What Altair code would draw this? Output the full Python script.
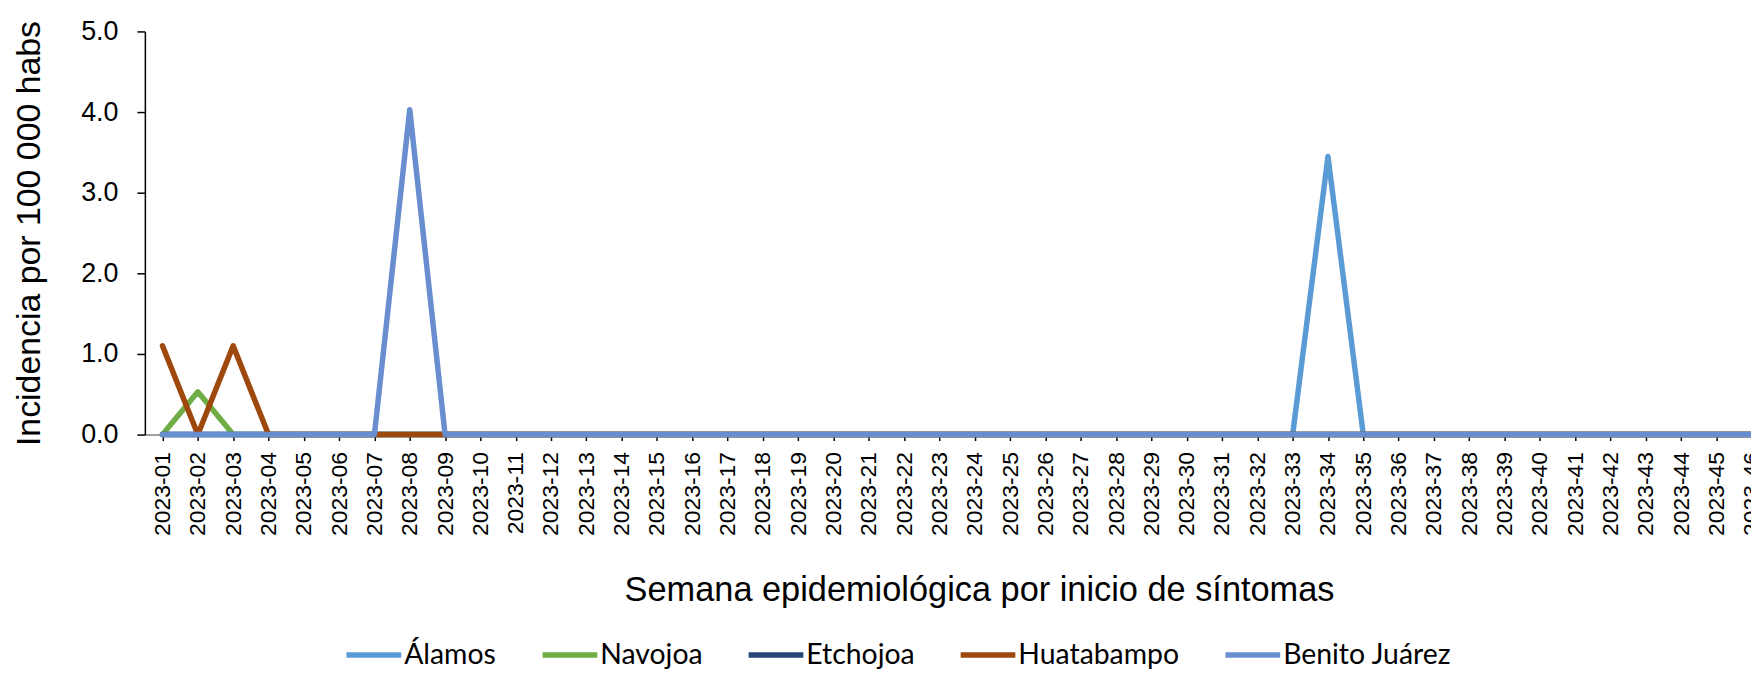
import altair as alt
import pandas as pd

weeks = [f"2023-{i:02d}" for i in range(1, 47)]
series = ["Álamos", "Navojoa", "Etchojoa", "Huatabampo", "Benito Juárez"]
colors = ["#5B9BD5", "#70AD47", "#264478", "#9E480E", "#698ED0"]

alamos = [0, 0, 0, 0, 0, 0, 0, 0, 0, 0, 0, 0, 0, 0, 0, 0, 0, 0, 0, 0, 0, 0, 0, 0, 0, 0, 0, 0, 0, 0, 0, 0, 0,
          3.45, 0, 0, 0, 0, 0, 0, 0, 0, 0, 0, 0, 0]
navojoa = [0, 0.53, 0, 0, 0, 0, 0, 0, 0, 0, 0, 0, 0, 0, 0, 0, 0, 0, 0, 0, 0, 0, 0, 0, 0, 0, 0, 0, 0, 0, 0, 0, 0,
           0, 0, 0, 0, 0, 0, 0, 0, 0, 0, 0, 0, 0]
etchojoa = [0, 0, 0, 0, 0, 0, 0, 0, 0, 0, 0, 0, 0, 0, 0, 0, 0, 0, 0, 0, 0, 0, 0, 0, 0, 0, 0, 0, 0, 0, 0, 0, 0,
            0, 0, 0, 0, 0, 0, 0, 0, 0, 0, 0, 0, 0]
huatabampo = [1.1, 0, 1.1, 0, 0, 0, 0, 0, 0, 0, 0, 0, 0, 0, 0, 0, 0, 0, 0, 0, 0, 0, 0, 0, 0, 0, 0, 0, 0, 0, 0, 0, 0,
              0, 0, 0, 0, 0, 0, 0, 0, 0, 0, 0, 0, 0]
benito_juarez = [0, 0, 0, 0, 0, 0, 0, 4.03, 0, 0, 0, 0, 0, 0, 0, 0, 0, 0, 0, 0, 0, 0, 0, 0, 0, 0, 0, 0, 0, 0, 0, 0, 0,
                 0, 0, 0, 0, 0, 0, 0, 0, 0, 0, 0, 0, 0]

values = [alamos, navojoa, etchojoa, huatabampo, benito_juarez]
rows = []
for name, vals in zip(series, values):
    for w, v in zip(weeks, vals):
        rows.append({"Semana": w, "Municipio": name, "Incidencia": v})
df = pd.DataFrame(rows)

x_enc = alt.X(
    "Semana:O",
    sort=weeks,
    scale=alt.Scale(domain=weeks),
    axis=alt.Axis(
        title="Semana epidemiológica por inicio de síntomas",
        titleFont="Liberation Sans", titleFontSize=34.5, titleFontWeight="normal",
        titleColor="#000000",
        titleX=838, titleY=157, titleAlign="center", titleBaseline="middle",
        labelFont="Liberation Sans", labelFontSize=23, labelColor="#000000",
        labelAngle=270, labelAlign="right", labelBaseline="middle",
        labelPadding=11, tickSize=6, tickColor="#000000", tickWidth=1.5,
        domainColor="#7f7f7f", domainWidth=1.5, grid=False, labelOverlap=False,
    ),
)
y_enc = alt.Y(
    "Incidencia:Q",
    scale=alt.Scale(domain=[0, 5], nice=False),
    axis=alt.Axis(
        title="Incidencia por 100 000 habs",
        titleFont="Liberation Sans", titleFontSize=34, titleFontWeight="normal",
        titleColor="#000000",
        titleX=-116, titleY=202.5, titleAngle=270, titleAlign="center", titleBaseline="middle",
        values=[0, 1, 2, 3, 4, 5], format=".1f",
        labelFont="Liberation Sans", labelFontSize=27, labelColor="#000000",
        labelPadding=19, tickSize=8, tickColor="#000000", tickWidth=1.5,
        domainColor="#000000", domainWidth=1.5, grid=False,
    ),
)
color_enc = alt.Color(
    "Municipio:N",
    scale=alt.Scale(domain=series, range=colors),
    legend=alt.Legend(
        title=None, orient="none", direction="horizontal",
        legendX=199.5, legendY=596, padding=0,
        symbolType="stroke", symbolSize=3025, symbolStrokeWidth=5.5,
        labelFont="Lato", labelFontSize=28.5, labelColor="#000000",
        labelOffset=0, columnPadding=35, labelLimit=400,
    ),
)

layers = []
for name in series:
    layers.append(
        alt.Chart(df)
        .transform_filter(alt.datum.Municipio == name)
        .mark_line(strokeWidth=5.5, strokeCap="round", strokeJoin="round")
        .encode(x=x_enc, y=y_enc, color=color_enc)
    )

chart = (
    alt.layer(*layers)
    .properties(
        width=1632,
        height=405,
        autosize=alt.AutoSizeParams(type="none"),
        padding={"left": 137.5, "top": 22, "right": -18.5, "bottom": 242},
        background="#ffffff",
    )
    .configure_view(stroke=None)
)

chart.save("out.html", embed_options={"renderer": "svg", "actions": False})
